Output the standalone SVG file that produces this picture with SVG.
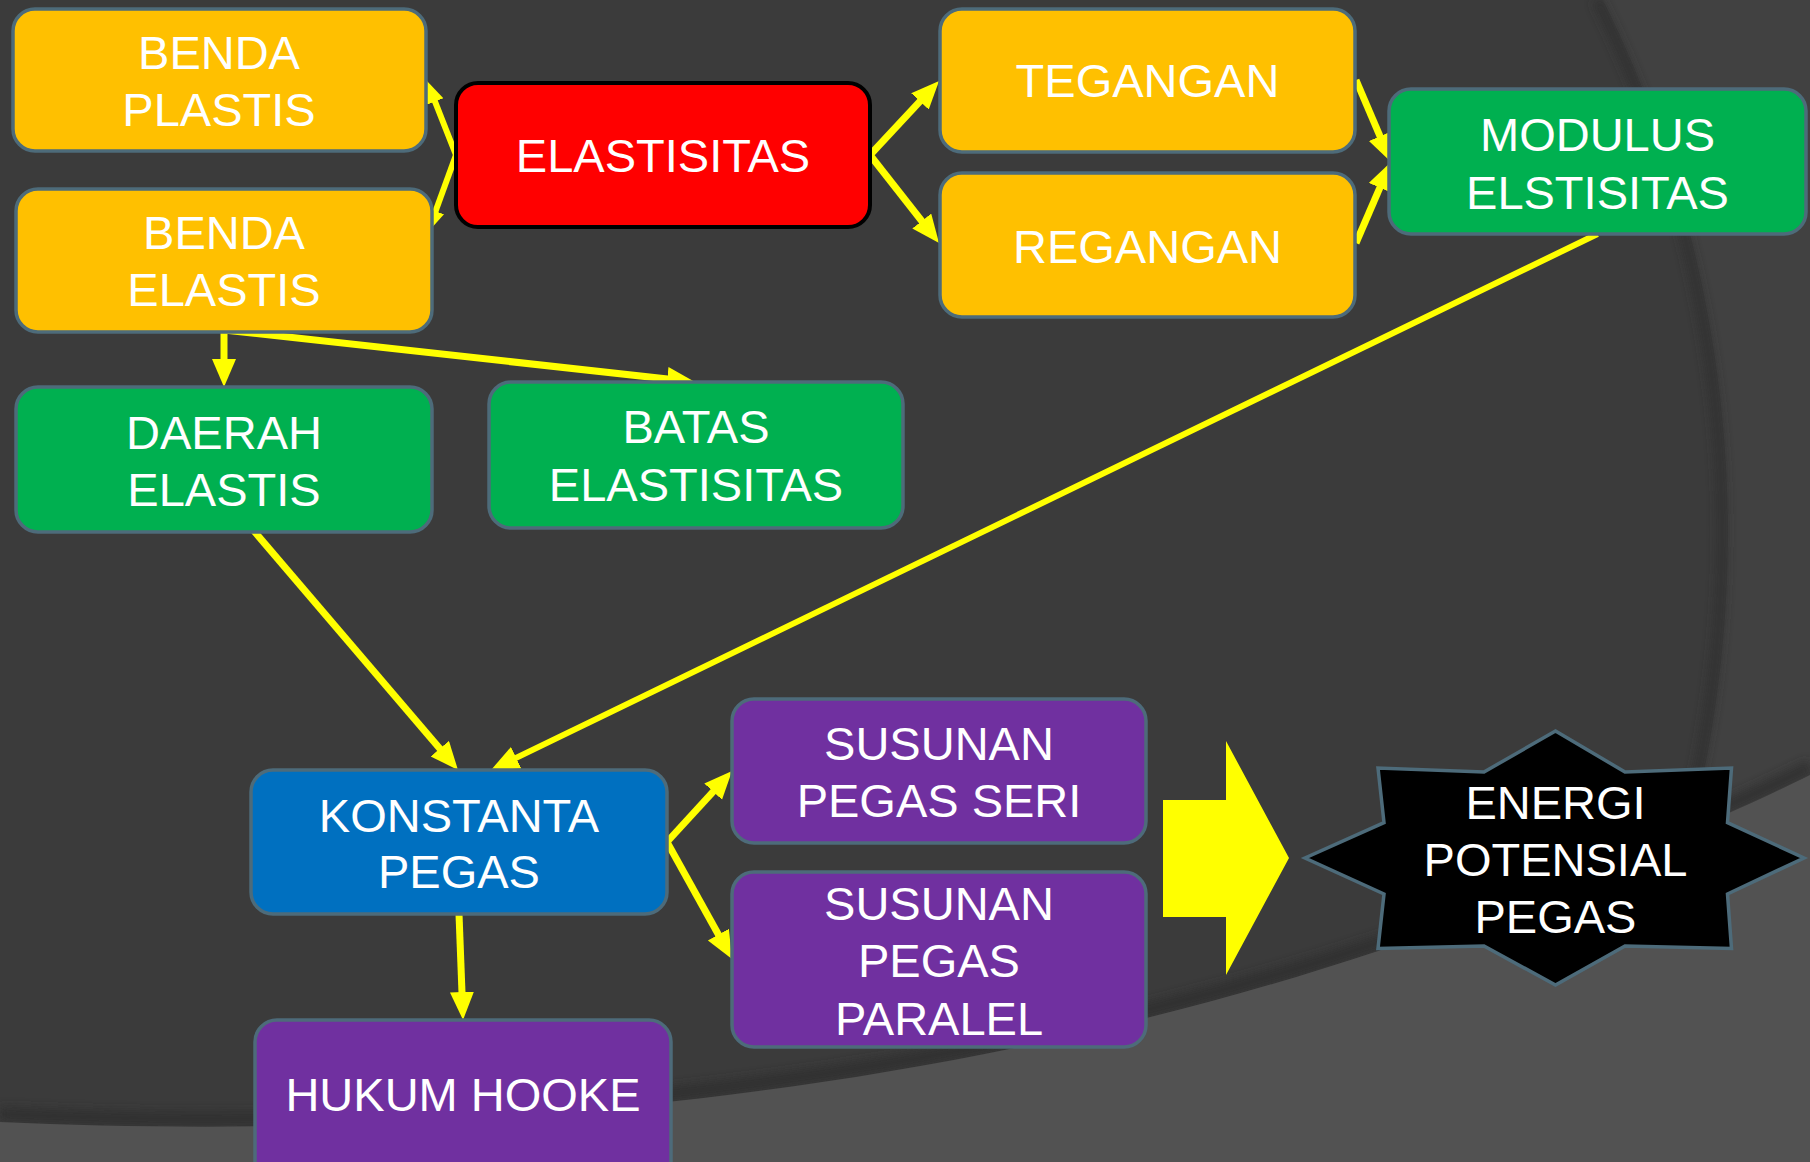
<svg xmlns="http://www.w3.org/2000/svg" width="1810" height="1162" viewBox="0 0 1810 1162">
<defs>
<style>
.box{stroke:#4D6B7A;stroke-width:3.5}
.org{fill:#FFC000}.grn{fill:#00B050}.blu{fill:#0070C0}.pur{fill:#7030A0}
.red{fill:#FF0000;stroke:#000;stroke-width:4}
.t{font-family:"Liberation Sans",Arial,sans-serif;font-size:47px;fill:#FFFFFF;text-anchor:middle}
.c{stroke:#FFFF00;stroke-width:7;fill:none}
.cs{stroke:#FFFF00;stroke-width:6;fill:none}
</style>
<marker id="ah" markerUnits="userSpaceOnUse" markerWidth="30" markerHeight="26" viewBox="0 0 30 26" refX="14" refY="12" orient="auto">
<path d="M0,0 L28,12 L0,24 Z" fill="#FFFF00"/>
</marker>
<marker id="ahs" markerUnits="userSpaceOnUse" markerWidth="24" markerHeight="20" viewBox="0 0 24 20" refX="11" refY="9" orient="auto">
<path d="M0,0 L22,9 L0,18 Z" fill="#FFFF00"/>
</marker>
<filter id="blur" x="-10%" y="-10%" width="120%" height="120%"><feGaussianBlur stdDeviation="5"/></filter>
</defs>

<g id="background">
<rect x="0" y="0" width="1810" height="1162" fill="#3B3B3B"/>
<path d="M1603,0 A1200,1200 0 0 1 1550,1162 L1810,1162 L1810,0 Z" fill="#414141"/>
<path d="M1597,0 A1200,1200 0 0 1 1544,1162" fill="none" stroke="#2E2E2E" stroke-width="10" opacity="0.7" filter="url(#blur)"/>
<path d="M0,1114 C400,1132 900,1102 1378,943 C1500,902 1700,822 1810,767" fill="none" stroke="#2E2E2E" stroke-width="14" opacity="0.8" filter="url(#blur)"/>
<path d="M0,1122 C400,1140 900,1110 1378,951 C1500,910 1700,830 1810,775 L1810,1162 L0,1162 Z" fill="#525252"/>
</g>

<g id="connectors">
<line class="cs" x1="456" y1="155" x2="431" y2="91.3" marker-end="url(#ahs)"/>
<line class="cs" x1="456" y1="155" x2="431.8" y2="221.6" marker-end="url(#ahs)"/>
<line class="c" x1="224" y1="330" x2="224" y2="373" marker-end="url(#ah)"/>
<line class="c" x1="224" y1="330" x2="681.1" y2="380.5" marker-end="url(#ah)"/>
<line class="c" x1="254" y1="531" x2="448.9" y2="759.3" marker-end="url(#ah)"/>
<line class="cs" x1="1597.5" y1="234" x2="503.6" y2="763.9" marker-end="url(#ah)"/>
<line class="c" x1="870" y1="155" x2="929.5" y2="91.2" marker-end="url(#ah)"/>
<line class="c" x1="870" y1="155" x2="930.4" y2="232" marker-end="url(#ah)"/>
<line class="c" x1="1356" y1="80" x2="1385.5" y2="149.1" marker-end="url(#ah)"/>
<line class="c" x1="1356" y1="243" x2="1385.4" y2="174.9" marker-end="url(#ah)"/>
<line class="c" x1="667" y1="842" x2="722.6" y2="781.3" marker-end="url(#ah)"/>
<line class="c" x1="667" y1="842" x2="725.2" y2="946.8" marker-end="url(#ah)"/>
<line class="c" x1="459" y1="914" x2="462.5" y2="1006" marker-end="url(#ah)"/>
</g>

<g id="benda-plastis">
<rect class="box org" x="13" y="9" width="413" height="142" rx="22"/>
<text class="t" x="219" y="69">BENDA</text>
<text class="t" x="219" y="126">PLASTIS</text>
</g>
<g id="benda-elastis">
<rect class="box org" x="16" y="189" width="416" height="143" rx="22"/>
<text class="t" x="224" y="249">BENDA</text>
<text class="t" x="224" y="306">ELASTIS</text>
</g>
<g id="elastisitas">
<rect class="red" x="456" y="83" width="414" height="144" rx="22"/>
<text class="t" x="663" y="172">ELASTISITAS</text>
</g>
<g id="daerah-elastis">
<rect class="box grn" x="16" y="387" width="416" height="145" rx="22"/>
<text class="t" x="224" y="449">DAERAH</text>
<text class="t" x="224" y="506">ELASTIS</text>
</g>
<g id="batas-elastisitas">
<rect class="box grn" x="489" y="382" width="414" height="146" rx="22"/>
<text class="t" x="696" y="443">BATAS</text>
<text class="t" x="696" y="501">ELASTISITAS</text>
</g>
<g id="tegangan">
<rect class="box org" x="940" y="9" width="415" height="143" rx="22"/>
<text class="t" x="1147.5" y="97">TEGANGAN</text>
</g>
<g id="regangan">
<rect class="box org" x="940" y="173" width="415" height="144" rx="22"/>
<text class="t" x="1147.5" y="263">REGANGAN</text>
</g>
<g id="modulus-elastisitas">
<rect class="box grn" x="1389" y="89" width="417" height="145" rx="22"/>
<text class="t" x="1597.5" y="151">MODULUS</text>
<text class="t" x="1597.5" y="209">ELSTISITAS</text>
</g>
<g id="konstanta-pegas">
<rect class="box blu" x="251" y="770" width="416" height="144" rx="22"/>
<text class="t" x="459" y="832">KONSTANTA</text>
<text class="t" x="459" y="888">PEGAS</text>
</g>
<g id="hukum-hooke">
<rect class="box pur" x="255" y="1020" width="416" height="170" rx="22"/>
<text class="t" x="463" y="1111">HUKUM HOOKE</text>
</g>
<g id="susunan-seri">
<rect class="box pur" x="732" y="699" width="414" height="144" rx="22"/>
<text class="t" x="939" y="760">SUSUNAN</text>
<text class="t" x="939" y="817">PEGAS SERI</text>
</g>
<g id="susunan-paralel">
<rect class="box pur" x="732" y="872" width="414" height="175" rx="22"/>
<text class="t" x="939" y="920">SUSUNAN</text>
<text class="t" x="939" y="977">PEGAS</text>
<text class="t" x="939" y="1035">PARALEL</text>
</g>
<g id="block-arrow">
<polygon points="1163,800 1226,800 1226,741 1289,858 1226,975 1226,917 1163,917" fill="#FFFF00"/>
</g>
<g id="energi-potensial-pegas">
<polygon class="box" fill="#000000" points="1555.5,731 1625,772 1731.5,768 1727.5,822.6 1804,858 1727.5,894 1731.5,948.5 1625,946 1555.5,985 1484,946 1378,948.5 1384,894 1305,858 1384,822.6 1378,768 1484,772"/>
<text class="t" x="1555.5" y="819">ENERGI</text>
<text class="t" x="1555.5" y="876">POTENSIAL</text>
<text class="t" x="1555.5" y="933">PEGAS</text>
</g>
</svg>
